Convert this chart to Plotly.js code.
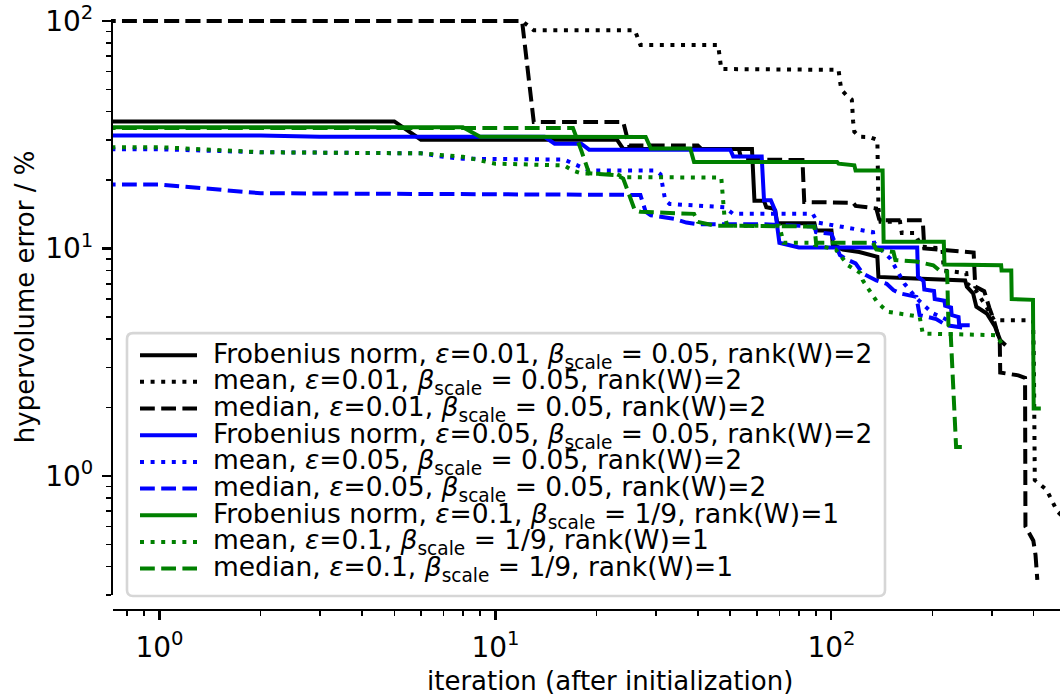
<!DOCTYPE html>
<html>
<head>
<meta charset="utf-8">
<script src="https://cdn.plot.ly/plotly-3.0.1.min.js"></script>
<style>
  html, body { margin: 0; padding: 0; background: #fff; overflow: hidden; }
  #chart { width: 1060px; height: 696px; }
</style>
</head>
<body>
<div id="chart"></div>
<script>
// Hypervolume error (%) per optimisation run, sampled at the iterations where it changes.

// Frobenius norm, eps=0.01, beta_scale=0.05, rank(W)=2
const frobEps001Iter = [0, 5, 6, 23, 24, 58, 59, 63, 64, 67, 68, 69, 89, 90, 100, 101, 108, 121, 137, 138, 177, 250, 253, 264, 270, 290, 307, 318, 330];
const frobEps001Err  = [36.2, 36.2, 30.1, 30.1, 27.4, 27.4, 16.2, 16.2, 15.2, 15.0, 14.7, 12.9, 12.9, 12.0, 12.0, 10.4, 9.9, 9.65, 9.2, 7.5, 7.38, 7.24, 6.8, 6.35, 5.55, 5.18, 4.53, 3.95, 3.76];

// mean, eps=0.01, beta_scale=0.05, rank(W)=2
const meanEps001Iter = [0, 12, 13, 26, 27, 46, 47, 105, 106, 107, 111, 115, 116, 117, 121, 130, 137, 138, 140, 160, 162, 177, 185, 214, 216, 252, 254, 268, 290, 305, 398, 399, 400, 401, 402, 403, 437, 470, 490];
const meanEps001Err  = [100, 100, 91, 91, 78.5, 78.5, 61.5, 61, 54.6, 49.9, 47.1, 45.1, 36.3, 32.6, 31.0, 30.9, 30, 15, 13.1, 13.1, 11.7, 11.7, 10.2, 10.0, 8.0, 7.8, 7.0, 6.6, 5.5, 4.84, 4.84, 4.4, 3.6, 2.5, 1.5, 0.96, 0.87, 0.70, 0.66];

// median, eps=0.01, beta_scale=0.05, rank(W)=2
const medEps001Iter = [0, 12, 13, 24, 25, 40, 41, 53, 54, 82, 83, 116, 118, 136, 139, 187, 189, 265, 268, 285, 295, 305, 317, 318, 360, 377, 378, 399, 405, 410];
const medEps001Err  = [100, 100, 36, 36, 28.4, 28.4, 27.4, 27.4, 24.6, 24.5, 16.0, 15.9, 15.4, 15.0, 13.3, 13.3, 10.0, 9.6, 6.8, 6.5, 5.5, 4.8, 3.9, 2.85, 2.77, 2.7, 0.6, 0.52, 0.45, 0.35];

// Frobenius norm, eps=0.05, beta_scale=0.05, rank(W)=2
const frobEps005Iter = [0, 2, 3, 14, 15, 18, 19, 50, 51, 62, 63, 66, 68, 69, 70, 80, 180, 181, 188, 189, 202, 203, 217, 218, 227, 228, 239, 240, 258];
const frobEps005Err  = [31.4, 31.4, 31.0, 31.0, 28.9, 28.9, 27.2, 27.2, 25.4, 25.4, 16.3, 16.3, 14.7, 12.0, 10.6, 10.1, 10.1, 7.5, 7.2, 6.6, 6.5, 6.0, 5.9, 5.6, 5.5, 5.1, 5.0, 4.6, 4.6];

// mean, eps=0.05, beta_scale=0.05, rank(W)=2
const meanEps005Iter = [0, 1, 2, 6, 7, 8, 16, 17, 18, 19, 30, 31, 32, 33, 48, 50, 51, 88, 91, 133, 134, 150, 165, 180, 200, 225];
const meanEps005Err  = [27.3, 27.3, 26.5, 26.2, 25.3, 24.8, 24.6, 23.6, 22.9, 22.0, 22.0, 21.2, 16.3, 15.7, 15.2, 14.5, 14.2, 14.2, 13.0, 11.8, 10.6, 9.0, 7.0, 6.0, 5.2, 4.8];

// median, eps=0.05, beta_scale=0.05, rank(W)=2
const medEps005Iter = [0, 1, 2, 27, 28, 29, 31, 34, 37, 40, 61, 89, 90, 100, 104, 106, 112, 118, 124, 136, 146, 153, 160, 179, 183, 205, 220, 245];
const medEps005Err  = [19.1, 19.1, 17.5, 17.2, 14.5, 14.0, 13.8, 13.5, 13.0, 12.8, 12.8, 12.5, 11.8, 11.6, 10.0, 9.35, 8.9, 8.6, 7.77, 7.24, 7.0, 6.56, 6.35, 6.13, 5.1, 4.9, 4.6, 4.5];

// Frobenius norm, eps=0.1, beta_scale=1/9, rank(W)=1
const frobEps01Iter = [0, 8, 9, 28, 29, 38, 39, 104, 105, 117, 118, 142, 143, 216, 217, 320, 321, 343, 344, 398, 400, 420];
const frobEps01Err  = [34.1, 34.1, 31.0, 30.9, 27.5, 27.5, 24.0, 24.0, 23.6, 23.2, 22.0, 22.0, 10.7, 10.7, 8.5, 8.44, 8.0, 8.0, 6.0, 5.95, 1.98, 1.98];

// mean, eps=0.1, beta_scale=1/9, rank(W)=1
const meanEps01Iter = [0, 1, 2, 6, 8, 10, 16, 17, 18, 23, 24, 47, 48, 49, 70, 72, 88, 89, 103, 112, 122, 124, 137, 147, 183, 187, 310, 325];
const meanEps01Err  = [27.9, 27.9, 26.5, 26.2, 25.3, 23.6, 23.2, 22.0, 21.4, 21.2, 20.6, 20.5, 14.0, 12.6, 12.6, 10.6, 10.6, 10.4, 9.9, 8.44, 7.8, 7.24, 5.8, 5.27, 5.02, 4.23, 4.16, 3.71];

// median, eps=0.1, beta_scale=1/9, rank(W)=1
const medEps01Iter = [0, 17, 18, 19, 23, 24, 26, 27, 39, 40, 45, 89, 90, 133, 136, 153, 155, 179, 201, 210, 221, 223, 226, 235, 250];
const medEps01Err  = [33.9, 33.9, 27, 21.4, 21.0, 20.3, 14.7, 14.5, 14.2, 13.1, 12.6, 12.5, 10.6, 10.6, 9.9, 9.65, 8.9, 8.76, 8.44, 8.0, 7.9, 4.6, 4.5, 1.34, 1.34];

// Legend labels (drawn in plotting order)
const seriesLabels = [
  'Frobenius norm, <i>ε</i>=0.01, <i>β</i><sub>scale</sub> = 0.05, rank(W)=2',
  'mean, <i>ε</i>=0.01, <i>β</i><sub>scale</sub> = 0.05, rank(W)=2',
  'median, <i>ε</i>=0.01, <i>β</i><sub>scale</sub> = 0.05, rank(W)=2',
  'Frobenius norm, <i>ε</i>=0.05, <i>β</i><sub>scale</sub> = 0.05, rank(W)=2',
  'mean, <i>ε</i>=0.05, <i>β</i><sub>scale</sub> = 0.05, rank(W)=2',
  'median, <i>ε</i>=0.05, <i>β</i><sub>scale</sub> = 0.05, rank(W)=2',
  'Frobenius norm, <i>ε</i>=0.1, <i>β</i><sub>scale</sub> = 1/9, rank(W)=1',
  'mean, <i>ε</i>=0.1, <i>β</i><sub>scale</sub> = 1/9, rank(W)=1',
  'median, <i>ε</i>=0.1, <i>β</i><sub>scale</sub> = 1/9, rank(W)=1'
];

// Axis tick labels
const majorTickVals = [1, 10, 100];
const majorTickText = ['10<sup>0</sup>', '10<sup>1</sup>', '10<sup>2</sup>'];
const xTitle = 'iteration (after initialization)';
const yTitle = 'hypervolume error / %';

// ---- styling ----
const FONT = 'DejaVu Sans';
const FS = 26;
const LEG_FS = 26.5;
const TICK_FS = 28;
const LW = 4;
const DASHES = { solid: 'solid', dot: '4px,6.6px', dash: '14.8px,6.4px' };
const COLORS = { k: '#000000', b: '#0000ff', g: '#008000' };

const series = [
  [frobEps001Iter, frobEps001Err, COLORS.k, DASHES.solid],
  [meanEps001Iter, meanEps001Err, COLORS.k, DASHES.dot],
  [medEps001Iter,  medEps001Err,  COLORS.k, DASHES.dash],
  [frobEps005Iter, frobEps005Err, COLORS.b, DASHES.solid],
  [meanEps005Iter, meanEps005Err, COLORS.b, DASHES.dot],
  [medEps005Iter,  medEps005Err,  COLORS.b, DASHES.dash],
  [frobEps01Iter,  frobEps01Err,  COLORS.g, DASHES.solid],
  [meanEps01Iter,  meanEps01Err,  COLORS.g, DASHES.dot],
  [medEps01Iter,   medEps01Err,   COLORS.g, DASHES.dash]
];

// iteration 0 cannot live on a log axis: push it just off the left edge,
// so the initial value still runs in from the axis
const onLogAxis = it => (it === 0 ? 0.5 : it);

const traces = series.map(([it, err, color, dash], i) => ({
  type: 'scatter',
  mode: 'lines',
  x: it.map(onLogAxis),
  y: err,
  name: seriesLabels[i],
  line: { color: color, width: LW, dash: dash },
  hoverinfo: 'skip'
}));

// minor ticks at 2..9 x each decade
const minorTicks = (lo, hi) => {
  const out = [];
  for (let e = -1; e <= 2; e++) {
    for (let m = 2; m <= 9; m++) {
      const v = m * Math.pow(10, e);
      if (v >= lo && v <= hi) out.push(v);
    }
  }
  return out;
};

// plot area in pixels (a little head-room above 100 % so that line is not cut)
const PL = 113, PR = 1060, PT = 18.7, PB = 610;
const Y_BOTTOM_PX = 595;
const px2x = p => (p - PL) / (PR - PL);
const px2y = p => (PB - p) / (PB - PT);

const axisCommon = {
  type: 'log',
  showgrid: false,
  zeroline: false,
  showline: true,
  linecolor: '#000',
  linewidth: 2.1,
  ticks: 'outside',
  ticklen: 9,
  tickwidth: 2.1,
  tickcolor: '#000',
  tickmode: 'array',
  tickvals: majorTickVals,
  ticktext: majorTickText,
  tickfont: { family: FONT, size: TICK_FS, color: '#000' },
  mirror: false
};

// legend (frame, handles, labels) in paper coordinates
const legBox = { x0: 127, x1: 885, y0: 333, y1: 596, r: 6 };
const rowY0 = 355, rowStep = 26.7;
const handleX0 = 140, handleX1 = 197, textX = 211;

function roundRectPath(b) {
  const x0 = px2x(b.x0), x1 = px2x(b.x1), y0 = px2y(b.y1), y1 = px2y(b.y0);
  const rx = b.r / (PR - PL), ry = b.r / (PB - PT);
  return `M ${x0 + rx},${y0} L ${x1 - rx},${y0} Q ${x1},${y0} ${x1},${y0 + ry} ` +
         `L ${x1},${y1 - ry} Q ${x1},${y1} ${x1 - rx},${y1} L ${x0 + rx},${y1} ` +
         `Q ${x0},${y1} ${x0},${y1 - ry} L ${x0},${y0 + ry} Q ${x0},${y0} ${x0 + rx},${y0} Z`;
}

const shapes = [{
  type: 'path', xref: 'paper', yref: 'paper',
  path: roundRectPath(legBox),
  fillcolor: 'rgba(255,255,255,0.8)',
  line: { color: 'rgba(204,204,204,0.8)', width: 2.6 }
}];
const annotations = [];
series.forEach(([, , color, dash], i) => {
  const y = rowY0 + i * rowStep;
  shapes.push({
    type: 'line', xref: 'paper', yref: 'paper',
    x0: px2x(handleX0), x1: px2x(handleX1), y0: px2y(y), y1: px2y(y),
    line: { color: color, width: LW, dash: dash }
  });
  annotations.push({
    xref: 'paper', yref: 'paper', x: px2x(textX), y: px2y(y),
    xanchor: 'left', yanchor: 'middle', showarrow: false,
    text: seriesLabels[i],
    font: { family: FONT, size: LEG_FS, color: '#000' }
  });
});

// axis titles
annotations.push({
  xref: 'paper', yref: 'paper', x: px2x(610), y: px2y(681),
  xanchor: 'center', yanchor: 'middle', showarrow: false,
  text: xTitle, font: { family: FONT, size: FS, color: '#000' }
});
annotations.push({
  xref: 'paper', yref: 'paper', x: px2x(25), y: px2y(297),
  xanchor: 'center', yanchor: 'middle', showarrow: false, textangle: -90,
  text: yTitle, font: { family: FONT, size: FS, color: '#000' }
});

// y axis: 0.3 at Y_BOTTOM_PX, 100 at 20.7 px
const yDecadePx = (Y_BOTTOM_PX - 20.7) / (2 - Math.log10(0.3));
const yTop = 2 + (20.7 - PT) / yDecadePx;

const layout = {
  width: 1060,
  height: 696,
  margin: { l: PL, r: 1060 - PR, t: PT, b: 696 - PB, pad: 0 },
  paper_bgcolor: '#fff',
  plot_bgcolor: '#fff',
  showlegend: false,
  xaxis: Object.assign({}, axisCommon, {
    range: [Math.log10(0.727), Math.log10(479)],
    anchor: 'free',
    position: 0,
    ticklabelstandoff: 3,
    minor: { ticks: 'outside', ticklen: 5.3, tickwidth: 1.6, tickcolor: '#000',
             tickmode: 'array', tickvals: minorTicks(0.7, 480), showgrid: false }
  }),
  yaxis: Object.assign({}, axisCommon, {
    range: [Math.log10(0.3), yTop],
    domain: [(PB - Y_BOTTOM_PX) / (PB - PT), 1],
    ticklabelstandoff: 3,
    minor: { ticks: 'outside', ticklen: 5.3, tickwidth: 1.6, tickcolor: '#000',
             tickmode: 'array', tickvals: minorTicks(0.3, 100), showgrid: false }
  }),
  shapes: shapes,
  annotations: annotations
};

Plotly.newPlot('chart', traces, layout, { displayModeBar: false, staticPlot: true });
</script>
</body>
</html>
